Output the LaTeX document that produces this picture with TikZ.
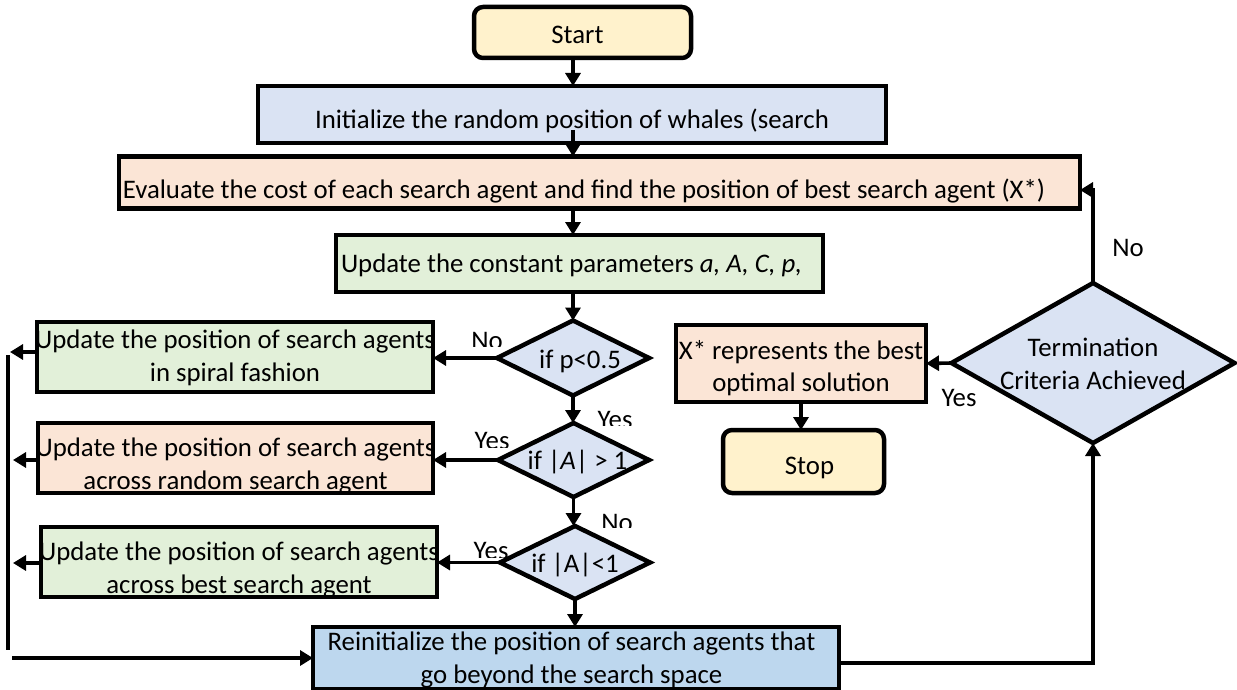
\documentclass[tikz,border=0pt]{standalone}
\usepackage{fontspec}
\setmainfont{Carlito}
\usetikzlibrary{shapes.geometric,arrows.meta}

\definecolor{cYellow}{HTML}{FFF2CC}
\definecolor{cBlue}{HTML}{DAE3F3}
\definecolor{cOrange}{HTML}{FBE5D6}
\definecolor{cGreen}{HTML}{E2F0D9}
\definecolor{cDeep}{HTML}{BDD7EE}

% centred lines that may run past the box edge; #1 = horizontal offset, #2 = vertical offset
\newcommand\txt[3]{\raisebox{#2}[0pt][0pt]{\makebox[0pt]{\kern#1\relax\begin{tabular}{@{}c@{}}#3\end{tabular}\kern-#1\relax}}}

\begin{document}
\begin{tikzpicture}[
  x=1pt, y=-1pt,
  font=\fontsize{26.8}{32.5}\selectfont,
  box/.style={draw, rectangle, line width=4.5pt, inner sep=0pt, outer sep=0pt},
  term/.style={box, rounded corners=9pt, fill=cYellow},
  dec/.style={draw, diamond, line width=4.5pt, fill=cBlue, inner sep=0pt, outer sep=0pt},
  arr/.style={line width=3.6pt, -{Triangle[length=13pt,width=15pt]}},
  link/.style={line width=3.6pt},
  lbl/.style={inner sep=0pt}
]
\useasboundingbox (0,0) rectangle (1237,690);

% main column
\node[term, minimum width=217pt, minimum height=51pt] (start) at (582.5,32.5) {\txt{-5pt}{-10.7pt}{Start}};
\node[box, fill=cBlue, minimum width=628pt, minimum height=57pt] (init) at (572,114.5)
  {\txt{0pt}{-13.7pt}{Initialize the random position of whales (search}};
\node[box, fill=cOrange, minimum width=961pt, minimum height=52pt] (eval) at (599.5,182.5)
  {\txt{-15.5pt}{-15.7pt}{Evaluate the cost of each search agent and find the position of best search agent (X*)}};
\node[box, fill=cGreen, minimum width=487pt, minimum height=57pt] (const) at (579.5,263.5)
  {\txt{-8pt}{-8.7pt}{Update the constant parameters \textit{a, A, C, p,}}};

\node[dec, minimum width=152pt, minimum height=75pt] (d1) at (573,358) {\txt{7pt}{-10.7pt}{if p<0.5}};
\node[dec, minimum width=151pt, minimum height=74pt] (d2) at (573.5,460) {\txt{4pt}{-9.7pt}{if |\textit{A}| > 1}};
\node[dec, minimum width=150pt, minimum height=73pt] (d3) at (575,562.5) {\txt{0pt}{-9.7pt}{if |A|<1}};

% update strategies
\node[box, fill=cGreen, minimum width=396pt, minimum height=70pt] (box1) at (235,357)
  {\txt{0pt}{-7.7pt}{Update the position of search agents\\in spiral fashion}};
\node[box, fill=cOrange, minimum width=395pt, minimum height=70pt] (box2) at (235.5,458)
  {\txt{0pt}{-14.7pt}{Update the position of search agents\\across random search agent}};
\node[box, fill=cGreen, minimum width=396pt, minimum height=70pt] (box3) at (239,562)
  {\txt{0pt}{-14.7pt}{Update the position of search agents\\across best search agent}};

\node[box, fill=cDeep, minimum width=526pt, minimum height=62pt] (reinit) at (576,658)
  {\txt{-4.5pt}{-8.7pt}{Reinitialize the position of search agents that\\go beyond the search space}};

% termination side
\node[dec, minimum width=283pt, minimum height=160pt] (termc) at (1093,363)
  {\txt{0pt}{-9.7pt}{Termination\\Criteria Achieved}};
\node[box, fill=cOrange, minimum width=250pt, minimum height=77pt] (xbox) at (801,363.5)
  {\txt{0pt}{-11.7pt}{X* represents the best\\optimal solution}};
\node[term, minimum width=161pt, minimum height=63pt] (stop) at (803.5,461.5) {\txt{6pt}{-12.7pt}{Stop}};

% connectors along the main column
\coordinate (spine) at (573,0);
\draw[arr] (start.south -| spine) -- (spine |- init.north);
\coordinate (initlow) at (573,130);
\draw[arr] (initlow) -- (initlow |- eval.north);
\draw[arr] (spine |- eval.south) -- (spine |- const.north);
\draw[arr] (spine |- const.south) -- (d1.north);
\draw[arr] (d1.south) -- (d1.south |- d2.north);
\draw[arr] (d2.south) -- (d2.south |- d3.north);
\draw[arr] (d3.south) -- (d3.south |- reinit.north);

\draw[arr] (d1.west) -- (d1.west -| box1.east);
\draw[arr] (d2.west) -- (d2.west -| box2.east);
\draw[arr] (d3.west) -- (d3.west -| box3.east);

% left return rail
\coordinate (r1) at (10,352);
\coordinate (r2) at (13,460);
\coordinate (r3) at (13,563);
\draw[arr] (r1 -| box1.west) -- (r1);
\draw[arr] (r2 -| box2.west) -- (r2);
\draw[arr] (r3 -| box3.west) -- (r3);
\coordinate (railA) at (8,355);
\coordinate (railB) at (8,650);
\draw[link] (railA) -- (railB);
\coordinate (r4) at (12,658);
\draw[arr] (r4) -- (reinit.west);

% right loop
\coordinate (rr) at (1093,663);
\draw[arr] (rr -| reinit.east) -- (rr) -- (termc.south);
\coordinate (fb) at (1093,190);
\draw[arr] (termc.north) -- (fb) -- (fb -| eval.east);
\draw[arr] (termc.west) -- (xbox.east);
\draw[arr] (xbox.south) -- (xbox.south |- stop.north);

% branch labels
\node[lbl] (noTop) at (1128,248) {No};
\node[lbl] (yesTerm) at (959,398) {Yes};
\begin{scope}
  \clip (440,300) rectangle (540,346);
  \node[lbl] (noP) at (487,341) {No};
\end{scope}
\begin{scope}
  \clip (580,400) rectangle (660,425);
  \node[lbl] (yesP) at (615,420) {Yes};
\end{scope}
\begin{scope}
  \clip (450,420) rectangle (535,447);
  \node[lbl] (yesA1) at (492,441) {Yes};
\end{scope}
\begin{scope}
  \clip (580,500) rectangle (660,527);
  \node[lbl] (noA1) at (617,523) {No};
\end{scope}
\begin{scope}
  \clip (450,530) rectangle (535,557);
  \node[lbl] (yesA2) at (491,551) {Yes};
\end{scope}
\end{tikzpicture}
\end{document}
